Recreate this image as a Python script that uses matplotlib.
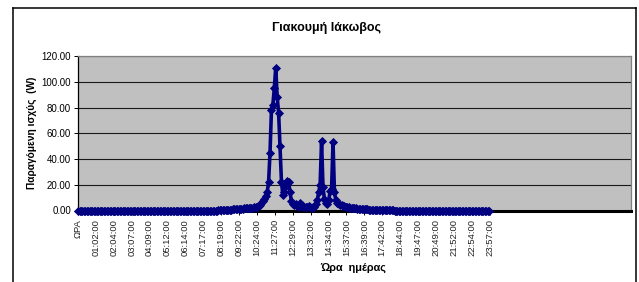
import matplotlib
matplotlib.use("Agg")
import matplotlib.pyplot as plt
import numpy as np
from matplotlib.lines import Line2D

# ---- data (5-minute readings, 00:00 .. 23:55) ----
sample_step_min = 5
power = [
    # 00:00 - 07:55
    0.0, 0.0, 0.0, 0.0, 0.0, 0.0, 0.0, 0.0, 0.0, 0.0, 0.0, 0.0,
    0.0, 0.0, 0.0, 0.0, 0.0, 0.0, 0.0, 0.0, 0.0, 0.0, 0.0, 0.0,
    0.0, 0.0, 0.0, 0.0, 0.0, 0.0, 0.0, 0.0, 0.0, 0.0, 0.0, 0.0,
    0.0, 0.0, 0.0, 0.0, 0.0, 0.0, 0.0, 0.0, 0.0, 0.0, 0.0, 0.0,
    0.0, 0.0, 0.0, 0.0, 0.0, 0.0, 0.0, 0.0, 0.0, 0.0, 0.0, 0.0,
    0.0, 0.0, 0.0, 0.0, 0.0, 0.0, 0.0, 0.0, 0.0, 0.0, 0.0, 0.0,
    0.0, 0.0, 0.0, 0.0, 0.0, 0.0, 0.0, 0.0, 0.0, 0.0, 0.0, 0.0,
    0.0, 0.0, 0.0, 0.0, 0.0, 0.0, 0.0, 0.0, 0.0, 0.0, 0.0, 0.0,
    # 08:00
    0.0, 0.0, 0.1, 0.1, 0.2, 0.2, 0.3, 0.3, 0.4, 0.5, 0.6, 0.7,
    # 09:00
    0.8, 1.0, 1.1, 1.2, 1.3, 1.4, 1.5, 1.5, 1.6, 1.6, 1.7, 1.8,
    # 10:00
    1.9, 2.0, 2.2, 2.4, 2.7, 3.0, 3.5, 4.2, 5.5, 7.0, 9.0, 11.0,
    # 11:00
    14.0, 22.0, 45.0, 78.0, 82.0, 95.0, 111.0, 88.0, 76.0, 50.0, 22.0, 12.0,
    # 12:00
    14.0, 19.0, 23.0, 22.0, 14.0, 7.0, 5.0, 4.0, 5.0, 3.5, 3.0, 5.5,
    # 13:00
    4.0, 3.0, 2.5, 2.5, 3.0, 3.5, 2.5, 2.0, 2.5, 3.0, 5.0, 8.0,
    # 14:00
    14.0, 20.0, 54.0, 18.0, 9.0, 6.0, 5.0, 8.0, 15.0, 17.0, 53.0, 14.0,
    # 15:00
    8.0, 6.0, 5.0, 4.5, 4.0, 3.5, 3.2, 3.0, 2.8, 2.5, 2.3, 2.1,
    # 16:00
    1.9, 1.7, 1.6, 1.5, 1.4, 1.3, 1.2, 1.1, 1.0, 0.9, 0.8, 0.7,
    # 17:00
    0.7, 0.6, 0.6, 0.5, 0.5, 0.4, 0.4, 0.3, 0.3, 0.3, 0.2, 0.2,
    # 18:00
    0.2, 0.1, 0.1, 0.1, 0.1, 0.0, 0.0, 0.0, 0.0, 0.0, 0.0, 0.0,
    # 19:00 - 23:55
    0.0, 0.0, 0.0, 0.0, 0.0, 0.0, 0.0, 0.0, 0.0, 0.0, 0.0, 0.0,
    0.0, 0.0, 0.0, 0.0, 0.0, 0.0, 0.0, 0.0, 0.0, 0.0, 0.0, 0.0,
    0.0, 0.0, 0.0, 0.0, 0.0, 0.0, 0.0, 0.0, 0.0, 0.0, 0.0, 0.0,
    0.0, 0.0, 0.0, 0.0, 0.0, 0.0, 0.0, 0.0, 0.0, 0.0, 0.0, 0.0,
    0.0, 0.0, 0.0, 0.0, 0.0, 0.0, 0.0, 0.0, 0.0, 0.0, 0.0, 0.0,
]

tick_labels = ["ΩΡΑ", "01:02:00", "02:04:00", "03:07:00", "04:09:00", "05:12:00",
               "06:14:00", "07:17:00", "08:19:00", "09:22:00", "10:24:00", "11:27:00",
               "12:29:00", "13:32:00", "14:34:00", "15:37:00", "16:39:00", "17:42:00",
               "18:44:00", "19:47:00", "20:49:00", "21:52:00", "22:54:00", "23:57:00"]
tick_step_min = 62.5
y_ticks = [0, 20, 40, 60, 80, 100, 120]

title = "Γιακουμή Ιάκωβος"
ylabel = "Παραγόμενη ισχύς  (W)"
xlabel = "Ώρα  ημέρας"

# ---- drawing ----
plt.rcParams['font.family'] = ['Liberation Sans', 'DejaVu Sans']
W, H = 639, 282
fig = plt.figure(figsize=(W / 100, H / 100), dpi=100)
fig.patch.set_facecolor('white')

L, R, T, B = 78, 631, 56, 210.5
ax = fig.add_axes([L / W, 1 - B / H, (R - L) / W, (B - T) / H])
ax.set_facecolor('#C0C0C0')

x = np.arange(len(power)) * sample_step_min
ax.plot(x, power, color='#000080', lw=2.6, marker='D', markersize=3.8,
        markeredgewidth=0.6, clip_on=False, zorder=5,
        solid_joinstyle='round', solid_capstyle='round')

ax.set_xlim(-0.5, 1930.5)
ax.set_ylim(0, 120)
ax.set_yticks(y_ticks)
ax.set_yticklabels([f"{v:.2f}" for v in y_ticks], fontsize=7)
ax.yaxis.grid(True, color='#1a1a1a', lw=0.8)
ax.set_axisbelow(True)

xt = np.arange(len(tick_labels)) * tick_step_min - 0.5
ax.set_xticks(xt)
ax.set_xticklabels(tick_labels, rotation=90, fontsize=6.8, va='top', ha='center',
                   color='#222222')
ax.tick_params(axis='x', length=3, width=0.7, pad=3, color='black')
ax.tick_params(axis='y', length=3, width=0.7, pad=2, color='black')

for s in ['top', 'right']:
    ax.spines[s].set_color('#808080')
    ax.spines[s].set_linewidth(0.9)
ax.spines['left'].set_color('black')
ax.spines['left'].set_linewidth(0.9)
ax.spines['bottom'].set_color('black')
ax.spines['bottom'].set_linewidth(2.2)

fig.text(326 / W, 1 - 28 / H, title, ha='center', va='center',
         fontsize=9, fontweight='bold')
fig.text(32 / W, 1 - 133 / H, ylabel, ha='center', va='center',
         rotation=90, fontsize=7.3, fontweight='bold')
fig.text(353 / W, 1 - 268 / H, xlabel, ha='center', va='center',
         fontsize=7.8, fontweight='bold')

# outer chart frame
fx0, fx1, fy0 = 12.5 / W, 636 / W, 1 - 7.5 / H
fig.add_artist(Line2D([fx0, fx0], [0, fy0], color='black', lw=1.1, transform=fig.transFigure))
fig.add_artist(Line2D([fx1, fx1], [0, fy0], color='black', lw=1.1, transform=fig.transFigure))
fig.add_artist(Line2D([fx0, fx1], [fy0, fy0], color='black', lw=1.1, transform=fig.transFigure))

fig.savefig('out.png', dpi=100)
